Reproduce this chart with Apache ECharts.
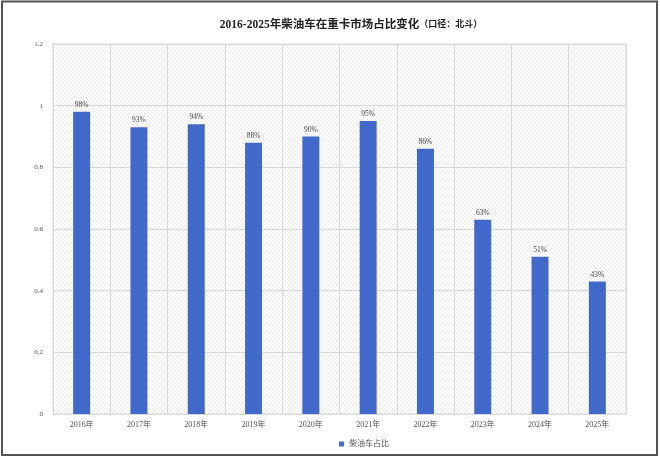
<!DOCTYPE html>
<html>
<head>
<meta charset="utf-8">
<script src="https://cdn.jsdelivr.net/npm/echarts@6/dist/echarts.min.js"></script>
<style>
html,body{margin:0;padding:0;background:#fff;}
#c{width:660px;height:458px;}
</style>
</head>
<body>
<div id="c"></div>
<script>
const titleText = '2016-2025年柴油车在重卡市场占比变化';
const titleNote = '（口径：北斗）';
const seriesName = '柴油车占比';
const categories = ['2016年','2017年','2018年','2019年','2020年','2021年','2022年','2023年','2024年','2025年'];
const shares = [0.98, 0.93, 0.94, 0.88, 0.90, 0.95, 0.86, 0.63, 0.51, 0.43];
const yTicks = [0, 0.2, 0.4, 0.6, 0.8, 1, 1.2];

// hatch pattern
const pc = document.createElement('canvas');
pc.width = 4; pc.height = 4;
const ctx = pc.getContext('2d');
ctx.fillStyle = '#ffffff';
ctx.fillRect(0,0,4,4);
ctx.strokeStyle = '#e6e6e6';
ctx.lineWidth = 0.8;
ctx.beginPath();
ctx.moveTo(0,0); ctx.lineTo(4,4);
ctx.moveTo(-2,2); ctx.lineTo(2,6);
ctx.moveTo(2,-2); ctx.lineTo(6,2);
ctx.stroke();

const serif = '"Liberation Serif","Noto Sans CJK SC",serif';
const chart = echarts.init(document.getElementById('c'), null, {renderer:'canvas'});
chart.setOption({
  animation: false,
  backgroundColor: '#ffffff',
  title: {
    text: '{a|' + titleText + '}{b|' + titleNote + '}',
    left: 346, top: 14, textAlign: 'center',
    textStyle: {
      rich: {
        a: {fontFamily: serif, fontWeight: 'bold', fontSize: 11.5, color: '#222'},
        b: {fontFamily: serif, fontWeight: 'bold', fontSize: 9, color: '#222'}
      }
    }
  },
  legend: {
    data: [seriesName],
    left: 334, top: 435,
    icon: 'rect', itemWidth: 5, itemHeight: 5, itemGap: 4,
    textStyle: {fontFamily: serif, fontSize: 8, color: '#555'}
  },
  grid: {
    left: 53, right: 34, top: 44, bottom: 44,
    show: true,
    backgroundColor: {image: pc, repeat: 'repeat'},
    borderColor: '#d9d9d9', borderWidth: 1
  },
  xAxis: {
    type: 'category',
    data: categories,
    axisLine: {show: true, lineStyle: {color: '#d9d9d9'}},
    axisTick: {show: false},
    axisLabel: {fontFamily: serif, fontSize: 8, color: '#555', margin: 7},
    splitLine: {show: true, lineStyle: {color: '#d9d9d9', width: 1}}
  },
  yAxis: {
    type: 'value',
    min: 0, max: 1.2, interval: 0.2,
    axisLine: {show: false},
    axisTick: {show: false},
    axisLabel: {fontFamily: serif, fontSize: 7, color: '#555', margin: 10,
      formatter: v => { const t = yTicks.find(x => Math.abs(x - v) < 1e-9); return String(t !== undefined ? t : v); }},
    splitLine: {show: true, lineStyle: {color: '#d9d9d9', width: 1}}
  },
  series: [{
    name: seriesName,
    type: 'bar',
    data: shares,
    barWidth: 17,
    itemStyle: {color: '#4169c9'},
    label: {
      show: true, position: 'top', distance: 3,
      fontFamily: serif, fontSize: 7.5, color: '#444',
      formatter: p => Math.round(p.value * 100) + '%'
    }
  }],
  graphic: [{
    type: 'rect', silent: true, z: 100,
    shape: {x: 2, y: 1.5, width: 655, height: 453.5},
    style: {fill: 'none', stroke: '#555', lineWidth: 2}
  }]
});
</script>
</body>
</html>
